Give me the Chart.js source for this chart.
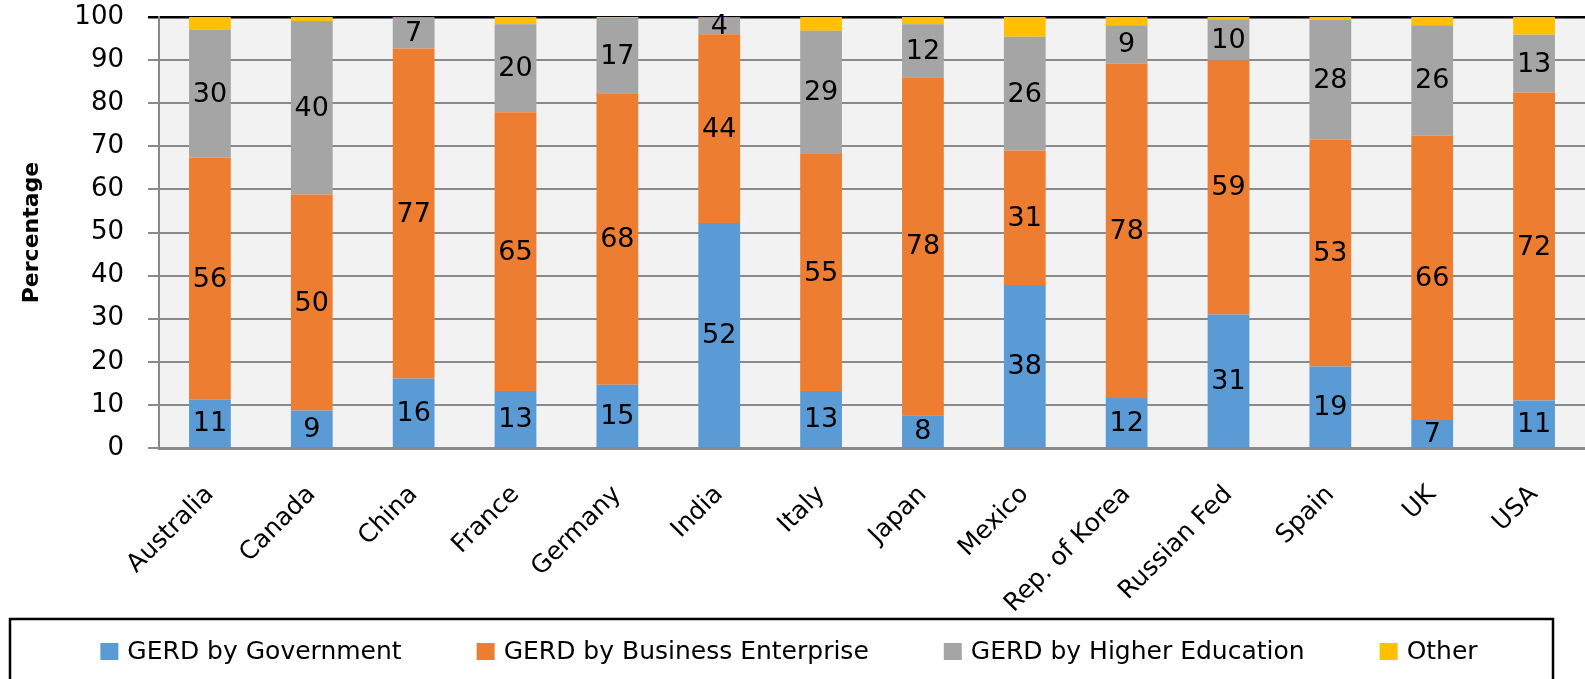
<!DOCTYPE html>
<html>
<head>
<meta charset="utf-8">
<script src="https://cdn.jsdelivr.net/npm/chart.js@4"></script>
<style>
  body { margin: 0; background: #fff; }
  canvas { display: block; }
</style>
</head>
<body>
<canvas id="gerd" width="1585" height="679"></canvas>
<script>
const categories = ['Australia', 'Canada', 'China', 'France', 'Germany', 'India', 'Italy',
  'Japan', 'Mexico', 'Rep. of Korea', 'Russian Fed', 'Spain', 'UK', 'USA'];
const government = [11.2, 8.7, 16.1, 13.2, 14.7, 52.2, 13.2, 7.6, 37.8, 11.6, 31.0, 18.9, 6.5, 11.0];
const business   = [56.2, 50.1, 76.6, 64.7, 67.6, 43.8, 55.0, 78.4, 31.2, 77.6, 58.9, 52.6, 66.0, 71.5];
const higherEd   = [29.7, 40.3, 7.1, 20.4, 17.4, 3.8, 28.6, 12.3, 26.4, 8.9, 9.6, 27.8, 25.6, 13.4];
const other      = [2.9, 0.9, 0.2, 1.7, 0.3, 0.2, 3.2, 1.7, 4.6, 1.9, 0.5, 0.7, 1.9, 4.1];
const yTicks = [0, 10, 20, 30, 40, 50, 60, 70, 80, 90, 100];

const FONT = 'DejaVu Sans';

// grey plot background
const plotBg = {
  id: 'plotBg',
  beforeDraw(chart) {
    const { ctx, chartArea: a } = chart;
    ctx.save();
    ctx.fillStyle = '#f2f2f2';
    ctx.fillRect(a.left, a.top, a.right - a.left, a.bottom - a.top);
    ctx.restore();
  }
};

// value labels in the middle of each segment (not for "Other")
const segLabels = {
  id: 'segLabels',
  afterDatasetsDraw(chart) {
    const ctx = chart.ctx;
    ctx.save();
    ctx.font = '27px "' + FONT + '"';
    ctx.fillStyle = '#000';
    ctx.textAlign = 'center';
    ctx.textBaseline = 'middle';
    chart.data.datasets.forEach((ds, i) => {
      if (i > 2) return;
      chart.getDatasetMeta(i).data.forEach((bar, j) => {
        const v = ds.data[j];
        ctx.fillText(String(Math.round(v)), bar.x, (bar.y + bar.base) / 2 + 1);
      });
    });
    ctx.restore();
  }
};

// framed legend under the chart, built from the datasets
const boxLegend = {
  id: 'boxLegend',
  afterDraw(chart) {
    const ctx = chart.ctx;
    const sets = chart.data.datasets;
    const box = 18, gapText = 9, gapItem = 75, cy = 652;
    ctx.save();
    ctx.font = '25px "' + FONT + '"';
    const widths = sets.map(ds => box + gapText + ctx.measureText(ds.label).width);
    const total = widths.reduce((a, b) => a + b, 0) + gapItem * (sets.length - 1);
    let x = 789 - total / 2;
    ctx.textBaseline = 'middle';
    ctx.textAlign = 'left';
    sets.forEach((ds, i) => {
      ctx.fillStyle = ds.backgroundColor;
      ctx.fillRect(x, cy - 9, box, 17);
      ctx.fillStyle = '#000';
      ctx.fillText(ds.label, x + box + gapText, cy);
      x += widths[i] + gapItem;
    });
    ctx.strokeStyle = '#000';
    ctx.lineWidth = 2.5;
    ctx.strokeRect(10, 619, 1543, 80);
    ctx.restore();
  }
};

const mk = (label, data, color) => ({
  label, data, backgroundColor: color, borderWidth: 0,
  barPercentage: 0.41, categoryPercentage: 1
});

new Chart(document.getElementById('gerd'), {
  type: 'bar',
  data: {
    labels: categories,
    datasets: [
      mk('GERD by Government', government, '#5b9bd5'),
      mk('GERD by Business Enterprise', business, '#ed7d31'),
      mk('GERD by Higher Education', higherEd, '#a5a5a5'),
      mk('Other', other, '#ffc000')
    ]
  },
  options: {
    responsive: false,
    animation: false,
    layout: { padding: { top: 17, left: 0, right: 0, bottom: 61 } },
    plugins: {
      tooltip: { enabled: false },
      legend: { display: false }
    },
    scales: {
      x: {
        stacked: true,
        grid: { display: false },
        border: { display: true, color: '#898989', width: 3 },
        ticks: {
          font: { family: FONT, size: 25 },
          color: '#000',
          minRotation: 45,
          maxRotation: 45,
          padding: 24
        },
        afterFit(axis) { axis.height = 170; }
      },
      y: {
        stacked: true,
        min: 0,
        max: 100,
        afterBuildTicks(axis) { axis.ticks = yTicks.map(v => ({ value: v })); },
        grid: {
          color: c => (c.tick && c.tick.value === 100 ? '#000' : '#898989'),
          lineWidth: c => (c.tick && c.tick.value === 100 ? 2.5 : 2),
          tickLength: 11
        },
        border: { display: true, color: '#898989', width: 2 },
        ticks: {
          font: { family: FONT, size: 26 },
          color: '#000',
          padding: 24
        },
        title: {
          display: true,
          text: 'Percentage',
          font: { family: FONT, size: 22, weight: 'bold' },
          color: '#000',
          padding: { top: 19, bottom: 0 }
        },
        afterFit(axis) {
          axis.width = 159;
          axis.paddingTop = 0;
          axis.paddingBottom = 0;
        }
      }
    }
  },
  plugins: [plotBg, segLabels, boxLegend]
});
</script>
</body>
</html>
